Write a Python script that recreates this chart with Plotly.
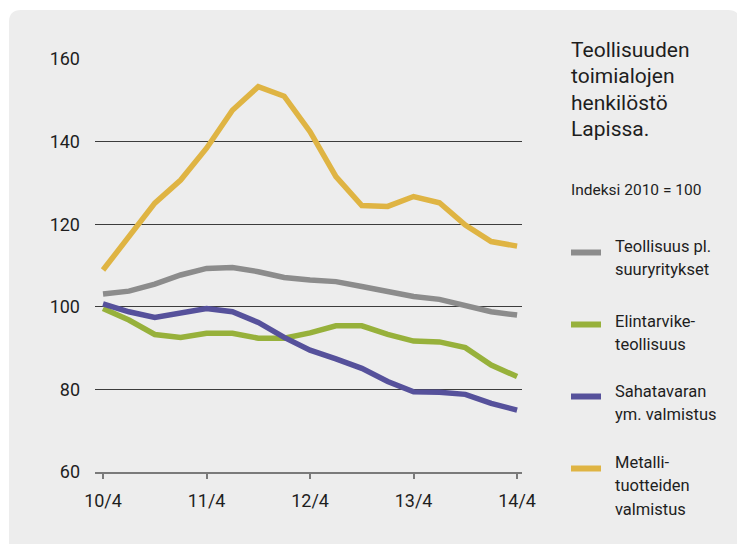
import plotly.graph_objects as go

# ---- data ----
quarters = ["10/4", "11/1", "11/2", "11/3", "11/4", "12/1", "12/2", "12/3", "12/4",
            "13/1", "13/2", "13/3", "13/4", "14/1", "14/2", "14/3", "14/4"]
tick_labels = ["10/4", "11/4", "12/4", "13/4", "14/4"]
y_ticks = [60, 80, 100, 120, 140, 160]

teollisuus = [103.1, 103.8, 105.5, 107.7, 109.3, 109.5, 108.5, 107.1, 106.5,
              106.1, 104.9, 103.7, 102.5, 101.8, 100.4, 98.8, 98.0]
elintarvike = [99.6, 96.8, 93.3, 92.6, 93.6, 93.6, 92.4, 92.4, 93.7,
               95.4, 95.4, 93.3, 91.7, 91.5, 90.1, 85.9, 83.1]
sahatavara = [100.7, 98.8, 97.4, 98.4, 99.6, 98.8, 96.2, 92.6, 89.5,
              87.4, 85.1, 81.9, 79.4, 79.3, 78.8, 76.6, 75.0]
metalli = [108.9, 117.0, 125.1, 130.7, 138.4, 147.6, 153.3, 151.0, 142.4,
           131.5, 124.5, 124.3, 126.7, 125.2, 119.8, 115.8, 114.7]

series_names = [["Teollisuus pl.", "suuryritykset"],
                ["Elintarvike-", "teollisuus"],
                ["Sahatavaran", "ym. valmistus"],
                ["Metalli-", "tuotteiden", "valmistus"]]
series_values = [teollisuus, elintarvike, sahatavara, metalli]
colors = ["#8c8c8c", "#97b13b", "#56519b", "#dfb443"]

title_lines = ["Teollisuuden", "toimialojen", "henkilöstö", "Lapissa."]
subtitle_text = "Indeksi 2010 = 100"

FONT = "Roboto, Liberation Sans, Arial, sans-serif"
TXT = "#1e1e1e"

# ---- layout geometry (reference-window pixels; page body has an 8px margin) ----
OFF = 8
W, H = 745 - OFF, 544 - OFF
L, R, T, B = 95, 522, 59, 472          # plot area in window pixels
PW, PH = R - L, B - T


def px(x):
    return (x - L) / PW


def py(y):
    return (B - y) / PH


def baseline_y(b, size):
    # centre of a text line whose baseline sits at window pixel b
    return py(b - 0.34 * size)


fig = go.Figure()
for name, vals, col in zip(series_names, series_values, colors):
    fig.add_trace(go.Scatter(x=quarters, y=vals, mode="lines", name=" ".join(name),
                             line=dict(color=col, width=5.5), showlegend=False))

shapes = []
# rounded background panel
x0, y0, x1, y1, r = 9, 10, 740, 600, 12
path = (f"M {px(x0)},{py(y1)} L {px(x0)},{py(y0 + r)} "
        f"Q {px(x0)},{py(y0)} {px(x0 + r)},{py(y0)} "
        f"L {px(x1 - r)},{py(y0)} Q {px(x1)},{py(y0)} {px(x1)},{py(y0 + r)} "
        f"L {px(x1)},{py(y1)} Z")
shapes.append(dict(type="path", path=path, xref="paper", yref="paper",
                   fillcolor="#ededed", line=dict(width=0), layer="below"))

annotations = []


def add_text(text, x, base, size):
    annotations.append(dict(text=text, x=px(x), y=baseline_y(base, size),
                            xref="paper", yref="paper", xanchor="left",
                            yanchor="middle", align="left", showarrow=False,
                            font=dict(family=FONT, size=size, color=TXT)))


TITLE_SIZE = 21
for i, line in enumerate(title_lines):
    add_text(line, 569, 56.7 + i * 26.5, TITLE_SIZE)

add_text(subtitle_text, 569, 195.5, 15.5)

legend_line_y = [252.5, 324.5, 396.5, 468.5]
legend_base_y = [251.7, 326.7, 396.7, 468.0]
LEG_SIZE = 16.5
for name, col, ly, by in zip(series_names, colors, legend_line_y, legend_base_y):
    shapes.append(dict(type="line", xref="paper", yref="paper",
                       x0=px(571), x1=px(601), y0=py(ly), y1=py(ly),
                       line=dict(color=col, width=6)))
    for j, line in enumerate(name):
        add_text(line, 613, by + j * 23.5, LEG_SIZE)

fig.update_layout(
    width=W, height=H,
    margin=dict(l=L - OFF, r=(W + OFF) - R, t=T - OFF, b=(H + OFF) - B, pad=0),
    paper_bgcolor="white", plot_bgcolor="rgba(0,0,0,0)",
    font=dict(family=FONT, size=18, color=TXT),
    shapes=shapes, annotations=annotations,
    xaxis=dict(type="category", range=[-0.31, 16.19], tickmode="array",
               tickvals=tick_labels, ticktext=tick_labels,
               showgrid=False, zeroline=False, showline=True,
               linecolor="#7a7a7a", linewidth=2,
               ticks="outside", ticklen=5, tickwidth=1.5, tickcolor="#7a7a7a",
               tickfont=dict(family=FONT, size=18, color=TXT),
               ticklabelstandoff=6),
    yaxis=dict(range=[60, 160], tickmode="array", tickvals=y_ticks,
               showgrid=True, gridcolor="#3c3c3c", gridwidth=1,
               zeroline=False, showline=False, ticks="",
               tickfont=dict(family=FONT, size=18, color=TXT),
               ticklabelstandoff=14),
)

fig.write_html("out.html")
